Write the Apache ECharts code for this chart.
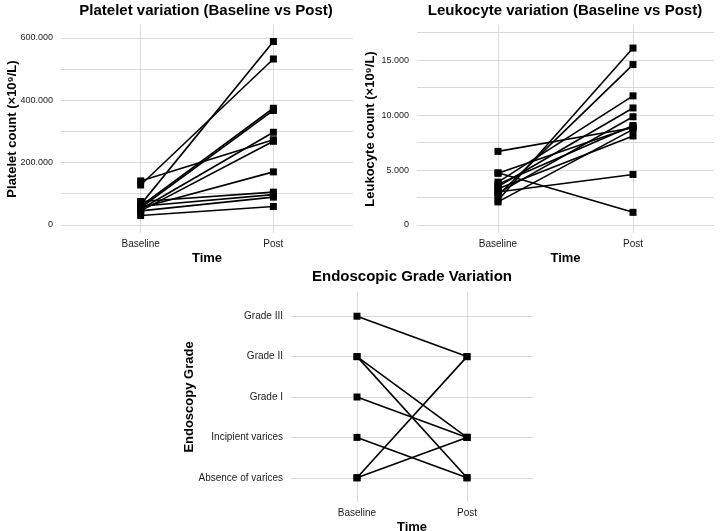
<!DOCTYPE html>
<html>
<head>
<meta charset="utf-8">
<script src="https://cdn.jsdelivr.net/npm/echarts@6/dist/echarts.min.js"></script>
<style>
  html, body { margin: 0; padding: 0; background: #fff; }
  #main { width: 720px; height: 531px; }
</style>
</head>
<body>
<div id="main"></div>
<script>
// categories
var timeCats = ['Baseline', 'Post'];
var gradeCats = ['Absence of varices', 'Incipient varices', 'Grade I', 'Grade II', 'Grade III'];

// platelet count per patient (x10^9/L)
var plateletBaseline = [141000, 128000, 65000, 60000, 55000, 50000, 45000, 55000, 75000, 60000, 45000, 30000];
var plateletPost     = [273000, 532000, 588000, 374000, 367000, 297000, 268000, 170000, 105000, 97000, 89000, 59000];
var plateletTicks = [0, 200000, 400000, 600000];
var plateletGrid  = [0, 100000, 200000, 300000, 400000, 500000, 600000];

// leukocyte count per patient
var leukoBaseline = [6700, 4750, 4700, 2250, 2700, 3000, 3900, 3500, 2900, 3700, 2100, 3300];
var leukoPost     = [8850, 1150, 8950, 16100, 14600, 4600, 11750, 10650, 9850, 9050, 8700, 8100];
var leukoTicks = [0, 5000, 10000, 15000];
var leukoGrid  = [0, 2500, 5000, 7500, 10000, 12500, 15000, 17500];

// endoscopic grade per patient
var gradeBaseline = ['Grade III', 'Grade II', 'Grade II', 'Grade I', 'Incipient varices', 'Absence of varices', 'Absence of varices'];
var gradePost     = ['Grade II', 'Incipient varices', 'Absence of varices', 'Incipient varices', 'Absence of varices', 'Grade II', 'Incipient varices'];

var FONT = '"Liberation Sans", Arial, Helvetica, sans-serif';
var gridColor = '#d9d9d9';

function dots(v) {
    return String(v).replace(/\B(?=(\d{3})+(?!\d))/g, '.');
}

function xAxisFor(gridIndex, gap) {
    return {
        type: 'value', gridIndex: gridIndex, min: 0.4, max: 2.6,
        name: 'Time', nameLocation: 'middle', nameGap: gap, nameMoveOverlap: false,
        nameTextStyle: { fontFamily: FONT, fontWeight: 'bold', fontSize: 13, color: '#000' },
        axisLine: { show: false },
        axisTick: { show: false, customValues: [1, 2] },
        axisLabel: {
            customValues: [1, 2], margin: 6,
            fontFamily: FONT, fontSize: 10, color: '#1a1a1a',
            formatter: function (v) { return timeCats[Math.round(v) - 1]; }
        },
        splitLine: { show: true, lineStyle: { color: gridColor, width: 1 } }
    };
}

function pairSeries(xi, base, post, mapY) {
    var out = [];
    for (var i = 0; i < base.length; i++) {
        out.push({
            type: 'line', xAxisIndex: xi, yAxisIndex: xi,
            data: [[1, mapY(base[i])], [2, mapY(post[i])]],
            symbol: 'rect', symbolSize: 7,
            itemStyle: { color: '#000' },
            lineStyle: { color: '#000', width: 1.6 },
            silent: true, animation: false
        });
    }
    return out;
}

var ident = function (v) { return v; };
var gradeNum = function (g) { return gradeCats.indexOf(g) + 1; };

function titleText(x, y, txt) {
    return {
        type: 'text', x: x, y: y,
        style: { text: txt, font: 'bold 15px ' + FONT, fill: '#000', align: 'center', verticalAlign: 'middle', textAlign: 'center', textVerticalAlign: 'middle' }
    };
}

var chart = echarts.init(document.getElementById('main'));
var option = {
    backgroundColor: '#fff',
    animation: false,
    graphic: [
        titleText(206, 11, 'Platelet variation (Baseline vs Post)'),
        titleText(565, 11, 'Leukocyte variation (Baseline vs Post)'),
        titleText(412, 277, 'Endoscopic Grade Variation')
    ],
    grid: [
        { left: 61, right: 367, top: 25, bottom: 298, outerBoundsMode: 'none' },
        { left: 417, right: 6, top: 25, bottom: 298, outerBoundsMode: 'none' },
        { left: 291, right: 187, top: 292, bottom: 29, outerBoundsMode: 'none' }
    ],
    xAxis: [xAxisFor(0, 19), xAxisFor(1, 19), xAxisFor(2, 19)],
    yAxis: [
        {
            type: 'value', gridIndex: 0, min: -26000, max: 641000,
            name: 'Platelet count (\u00d710\u2079/L)', nameLocation: 'middle', nameGap: 42, nameRotate: 90, nameMoveOverlap: false,
            nameTextStyle: { fontFamily: FONT, fontWeight: 'bold', fontSize: 13, color: '#000' },
            axisLine: { show: false },
            axisTick: { show: false, customValues: plateletGrid },
            axisLabel: { customValues: plateletTicks, margin: 8, fontFamily: FONT, fontSize: 9, color: '#1a1a1a', formatter: dots },
            splitLine: { show: true, lineStyle: { color: gridColor, width: 1 } }
        },
        {
            type: 'value', gridIndex: 1, min: -730, max: 18200,
            name: 'Leukocyte count (\u00d710\u2079/L)', nameLocation: 'middle', nameGap: 40, nameRotate: 90, nameMoveOverlap: false,
            nameTextStyle: { fontFamily: FONT, fontWeight: 'bold', fontSize: 13, color: '#000' },
            axisLine: { show: false },
            axisTick: { show: false, customValues: leukoGrid },
            axisLabel: { customValues: leukoTicks, margin: 8, fontFamily: FONT, fontSize: 9, color: '#1a1a1a', formatter: dots },
            splitLine: { show: true, lineStyle: { color: gridColor, width: 1 } }
        },
        {
            type: 'value', gridIndex: 2, min: 0.4, max: 5.6,
            name: 'Endoscopy Grade', nameLocation: 'middle', nameGap: 95, nameRotate: 90, nameMoveOverlap: false,
            nameTextStyle: { fontFamily: FONT, fontWeight: 'bold', fontSize: 13, color: '#000' },
            axisLine: { show: false },
            axisTick: { show: false, customValues: [1, 2, 3, 4, 5] },
            axisLabel: {
                customValues: [1, 2, 3, 4, 5], margin: 8, fontFamily: FONT, fontSize: 10, color: '#1a1a1a',
                formatter: function (v) { return gradeCats[Math.round(v) - 1]; }
            },
            splitLine: { show: true, lineStyle: { color: gridColor, width: 1 } }
        }
    ],
    series: []
        .concat(pairSeries(0, plateletBaseline, plateletPost, ident))
        .concat(pairSeries(1, leukoBaseline, leukoPost, ident))
        .concat(pairSeries(2, gradeBaseline, gradePost, gradeNum))
};
chart.setOption(option);
</script>
</body>
</html>
